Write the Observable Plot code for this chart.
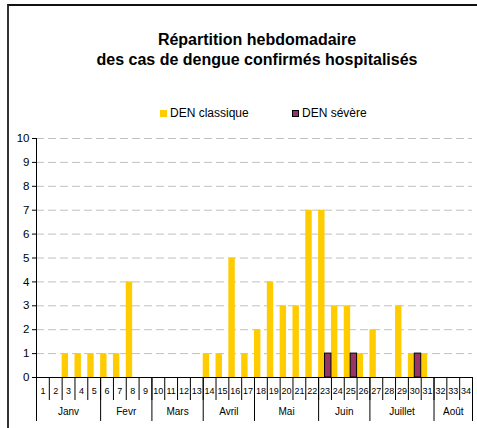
<!DOCTYPE html>
<html><head><meta charset="utf-8">
<script src="https://cdn.jsdelivr.net/npm/d3@7"></script>
<script src="https://cdn.jsdelivr.net/npm/@observablehq/plot@0.6"></script>
<style>
body{margin:0;background:#fff;font-family:"Liberation Sans",Arial,sans-serif;}
#page{position:relative;width:477px;height:428px;overflow:hidden;background:#fff;}
#frame{position:absolute;left:7px;top:4px;width:520px;height:520px;border-left:2px solid #333;border-top:2px solid #111;box-sizing:border-box;}
#title{position:absolute;left:57px;width:400px;top:30px;text-align:center;font-weight:bold;font-size:16px;line-height:20px;color:#000;}
.leg{position:absolute;top:106px;font-size:12px;line-height:14px;color:#000;white-space:nowrap;}
.sw{display:inline-block;width:7px;height:7px;margin-right:3px;vertical-align:0px;box-sizing:border-box;}
#chart{position:absolute;left:0;top:120px;}
</style></head>
<body>
<div id="page">
  <div id="frame"></div>
  <div id="title">Répartition hebdomadaire<br>des cas de dengue confirmés hospitalisés</div>
  <div id="chart"></div>
</div>
<script>
const weeks = [1,2,3,4,5,6,7,8,9,10,11,12,13,14,15,16,17,18,19,20,21,22,23,24,25,26,27,28,29,30,31,32,33,34];
const classique = [0,0,1,1,1,1,1,4,0,0,0,0,0,1,1,5,1,2,4,3,3,7,7,3,3,1,2,0,3,1,1,0,0,0];
const severe    = [0,0,0,0,0,0,0,0,0,0,0,0,0,0,0,0,0,0,0,0,0,0,1,0,1,0,0,0,0,1,0,0,0,0];
const seriesNames = ["DEN classique", "DEN sévère"];
const seriesColors = ["#FFCC00", "#993366"];
const months = ["Janv","Fevr","Mars","Avril","Mai","Juin","Juillet","Août"];
const monthFirstWeek = [1,6,10,14,18,23,27,32];
const monthLastWeek  = [5,9,13,17,22,26,31,34];
const yTicks = [0,1,2,3,4,5,6,7,8,9,10];

// legend
const legPos = [160, 292];
seriesNames.forEach((n, i) => {
  const d = document.createElement("div");
  d.className = "leg";
  d.style.left = legPos[i] + "px";
  const sw = document.createElement("span");
  sw.className = "sw";
  sw.style.background = seriesColors[i];
  if (i === 1) sw.style.border = "1px solid #000";
  d.appendChild(sw);
  d.appendChild(document.createTextNode(n));
  document.getElementById("page").appendChild(d);
});

const rowsC = weeks.map((w, i) => ({week: w, v: classique[i]})).filter(d => d.v > 0);
const rowsS = weeks.map((w, i) => ({week: w, v: severe[i]})).filter(d => d.v > 0);
const weekBounds = [weeks[0] - 0.5, ...weeks.map(w => w + 0.5)];
const monthBounds = [monthFirstWeek[0] - 0.5, ...monthLastWeek.map(w => w + 0.5)];
const monthRows = months.map((m, i) => ({name: m, mid: (monthFirstWeek[i] + monthLastWeek[i]) / 2}));

const chart = Plot.plot({
  width: 477,
  height: 308,
  marginLeft: 36,
  marginRight: 5,
  marginTop: 18,
  marginBottom: 51,
  style: {fontFamily: "'Liberation Sans', Arial, sans-serif", color: "#000", background: "transparent"},
  x: {type: "linear", domain: [0.5, 34.5]},
  y: {domain: [0, 10]},
  marks: [
    Plot.gridY(yTicks.filter(t => t > 0), {stroke: "#c0c0c0", strokeOpacity: 1, strokeDasharray: "8,4"}),
    Plot.rect(rowsC, {x1: d => d.week - 0.5, x2: d => d.week, y1: 0, y2: d => d.v, fill: seriesColors[0]}),
    Plot.rect(rowsS, {x1: d => d.week, x2: d => d.week + 0.5, y1: 0, y2: d => d.v, fill: seriesColors[1], stroke: "#000", strokeWidth: 1}),
    Plot.ruleX([0.5], {stroke: "#000"}),
    Plot.ruleY([0], {stroke: "#000"}),
    Plot.axisY(yTicks, {tickSize: 4, tickPadding: 3, fontSize: 11.5, label: null, stroke: "#000"}),
    Plot.axisX(weekBounds, {tickSize: 23, tickFormat: () => "", label: null, stroke: "#000"}),
    Plot.axisX(monthBounds, {tickSize: 44, tickFormat: () => "", label: null, stroke: "#000"}),
    Plot.text(weeks, {x: d => d, text: d => String(d), frameAnchor: "bottom", dy: 16, fontSize: 9, fill: "#000"}),
    Plot.text(monthRows, {x: "mid", text: "name", frameAnchor: "bottom", dy: 37, fontSize: 10, fill: "#000"})
  ]
});
document.getElementById("chart").appendChild(chart);
</script>
</body></html>
